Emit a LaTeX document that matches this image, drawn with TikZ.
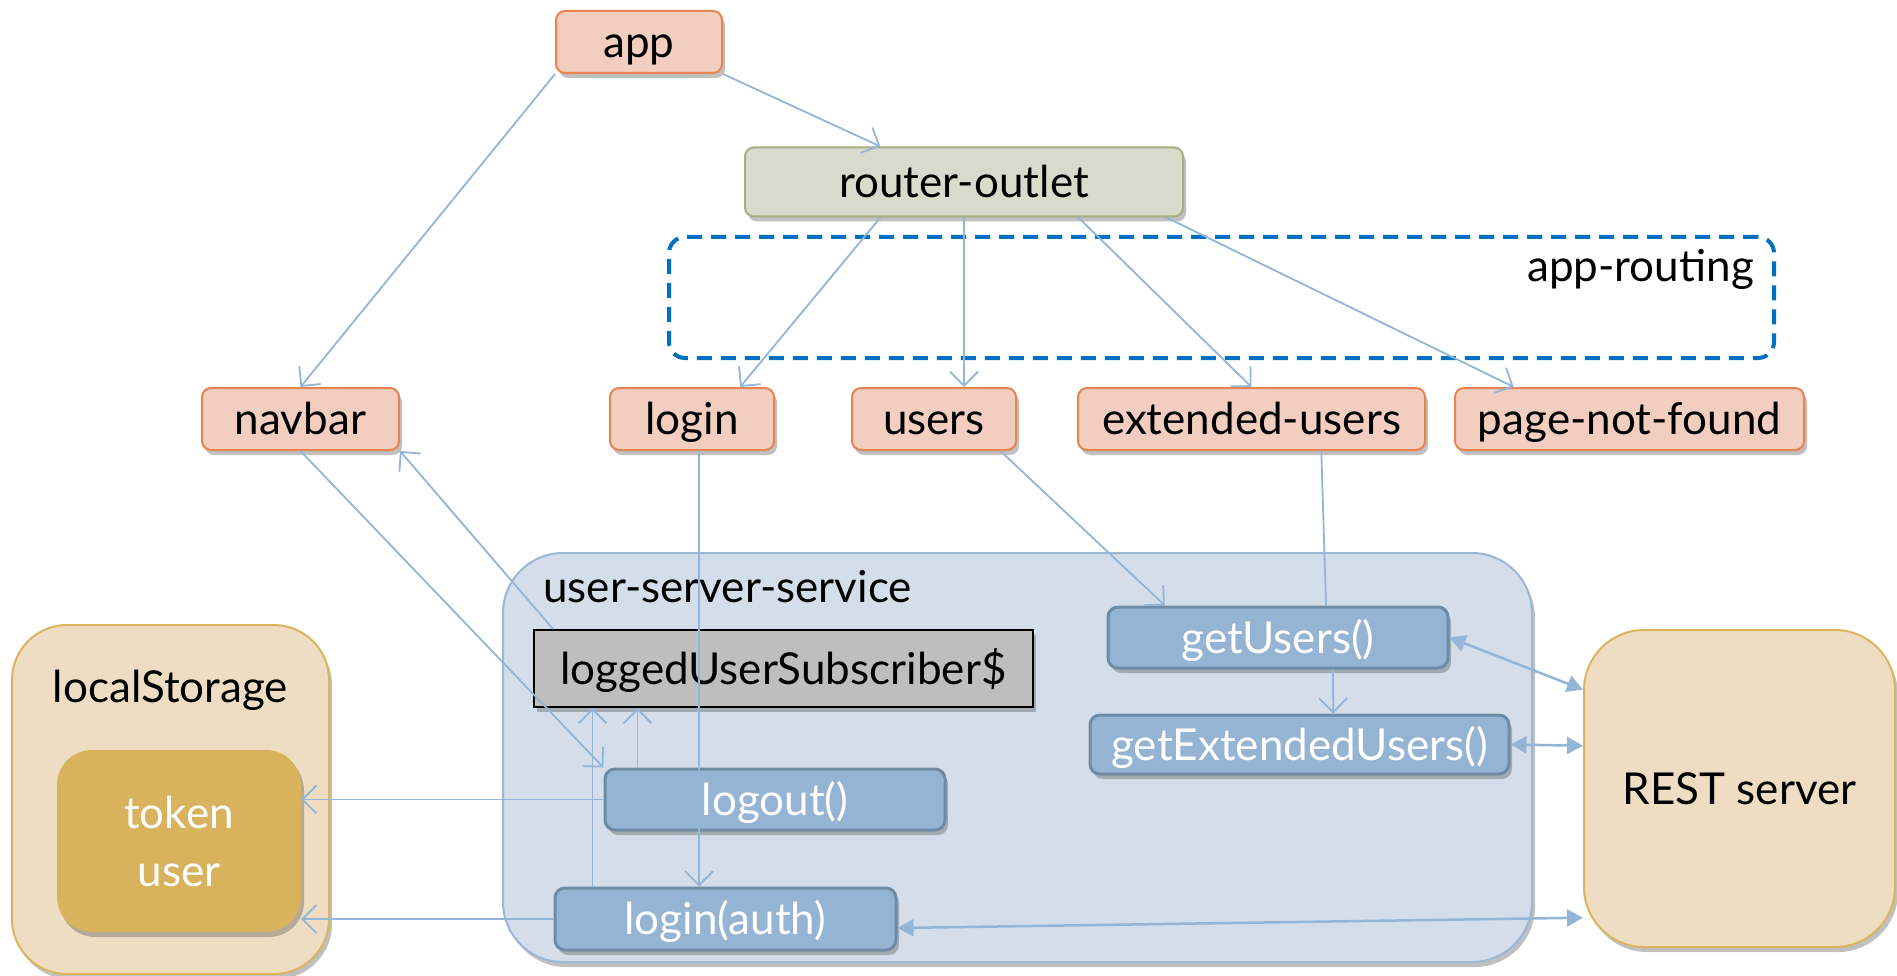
\documentclass[tikz,border=0pt]{standalone}
\usepackage{fontspec}
\setmainfont{Lato}
\usetikzlibrary{arrows.meta,shadows,calc}
\definecolor{pinkfill}{HTML}{F2CEC1}
\definecolor{pinkdraw}{HTML}{E6834E}
\definecolor{olivefill}{HTML}{D8DACB}
\definecolor{olivedraw}{HTML}{A4AE7F}
\definecolor{routeblue}{HTML}{0070C0}
\definecolor{ussfill}{HTML}{D3DEEA}
\definecolor{ussdraw}{HTML}{9AB7D6}
\definecolor{methfill}{HTML}{95B4D3}
\definecolor{methdraw}{HTML}{6E8BA5}
\definecolor{tanfill}{HTML}{EEDDC3}
\definecolor{tandraw}{HTML}{DBB45E}
\definecolor{goldfill}{HTML}{D8B25C}
\definecolor{connc}{HTML}{93B5D8}
\definecolor{grayfill}{HTML}{BEBEBE}
\begin{document}
\begin{tikzpicture}[x=1pt,y=-1pt,
  font=\fontsize{44}{50}\selectfont,
  tx/.style={text height=40pt,text depth=9pt},
  shad/.style={drop shadow={shadow xshift=3pt,shadow yshift=-5pt,opacity=0.35,fill=black!70}},
  comp/.style={draw=pinkdraw,fill=pinkfill,line width=2pt,rounded corners=9pt,shad,inner sep=0pt,minimum height=62pt,tx},
  outlet/.style={draw=olivedraw,fill=olivefill,line width=2pt,rounded corners=9pt,shad,inner sep=0pt,tx},
  meth/.style={draw=methdraw,fill=methfill,line width=3pt,rounded corners=10pt,shad,inner sep=0pt,text=white,tx},
  container/.style={line width=2pt,rounded corners=60pt,shad,inner sep=0pt},
  arr/.style={draw=connc,line width=1.8pt,-{Straight Barb[length=14pt,width=28pt]}},
  plain/.style={draw=connc,line width=1.8pt},
  dbl/.style={draw=connc,line width=2.5pt,{Triangle[length=16pt,width=17pt]}-{Triangle[length=16pt,width=17pt]}},
  lbl/.style={inner sep=0pt,tx}
]
\fill[white] (0,0) rectangle (1897,976);
\useasboundingbox (0,0) rectangle (1897,976);

% containers
\node[container,draw=ussdraw,fill=ussfill,minimum width=1029pt,minimum height=409pt] (uss) at (1017.5,757.5) {};
\node[lbl,anchor=west] (usslbl) at (543,587) {user-server-service};
\node[container,draw=tandraw,fill=tanfill,minimum width=317pt,minimum height=349pt,rounded corners=55pt] (ls) at (170.5,799.5) {};
\node[lbl] (lslbl) at (170.5,687) {localStorage};
\node[draw=none,fill=goldfill,rounded corners=35pt,shad,minimum width=244pt,minimum height=182pt,inner sep=0pt,text=white,align=center,font=\fontsize{44}{58}\selectfont] (token) at (179,841) {token\\user};
\node[container,draw=tandraw,fill=tanfill,minimum width=311pt,minimum height=317pt,tx] (rest) at (1739.5,788.5) {REST server};

% routing box
\node[draw=routeblue,line width=4pt,dash pattern=on 15pt off 9pt,rounded corners=16pt,minimum width=1105pt,minimum height=121pt,inner sep=0pt] (routing) at (1221.5,297.5) {};
\node[lbl,anchor=east] (routinglbl) at (1754,266) {app-routing};

% components
\node[comp,minimum width=166pt] (app) at (639,42) {app};
\node[outlet,minimum width=438pt,minimum height=69pt] (router) at (964,182) {router-outlet};
\node[comp,minimum width=197pt] (navbar) at (300.5,419) {navbar};
\node[comp,minimum width=164pt] (login) at (692,419) {login};
\node[comp,minimum width=164pt] (users) at (934,419) {users};
\node[comp,minimum width=347pt] (ext) at (1251.5,419) {extended-users};
\node[comp,minimum width=349pt] (pnf) at (1629.5,419) {page-not-found};

% service members
\node[draw=black,fill=grayfill,line width=2pt,shad,minimum width=499pt,minimum height=77pt,inner sep=0pt,tx] (logged) at (783.5,668.5) {loggedUserSubscriber\$};
\node[meth,minimum width=340pt,minimum height=61pt] (logout) at (775,799.5) {logout()};
\node[meth,minimum width=341pt,minimum height=62pt] (loginauth) at (725.5,919) {login(auth)};
\node[meth,minimum width=340pt,minimum height=61pt] (getusers) at (1278,637.5) {getUsers()};
\node[meth,minimum width=419pt,minimum height=59pt] (getext) at (1299.5,744.5) {getExtendedUsers()};

% connectors
\draw[arr] (app.south west) -- (navbar.north);
\draw[arr] (app.south east) -- ($(router.north west)!0.31!(router.north east)$);
\draw[arr] ($(router.south west)!0.31!(router.south east)$) -- ($(login.north west)!0.79!(login.north east)$);
\draw[arr] (router.south) -- (router.south |- users.north);
\draw[arr] ($(router.south west)!0.76!(router.south east)$) -- (ext.north);
\draw[arr] ($(router.south west)!0.96!(router.south east)$) -- ($(pnf.north west)!0.17!(pnf.north east)$);
\draw[arr] (navbar.south) -- (logout.north west);
\draw[arr] ($(logged.north west)!0.04!(logged.north east)$) -- (navbar.south east);
\draw[arr] ([xshift=7pt]login.south) -- ([xshift=7pt]login.south |- loginauth.north);
\draw[arr] ($(users.south west)!0.9!(users.south east)$) -- ($(getusers.north west)!0.17!(getusers.north east)$);
\draw[plain] ($(ext.south west)!0.7!(ext.south east)$) -- ($(getusers.north west)!0.64!(getusers.north east)$);
\draw[arr] ($(getusers.south west)!0.66!(getusers.south east)$) -- ($(getext.north west)!0.58!(getext.north east)$);
\draw[dbl] (getusers.east) -- ($(rest.north west)!0.19!(rest.south west)$);
\draw[dbl] (getext.east) -- ($(rest.north west)!0.366!(rest.south west)$);
\draw[dbl] ([yshift=-9pt]loginauth.east) -- ($(rest.north west)!0.905!(rest.south west)$);
\draw[arr] (logout.west) -- (logout.west -| token.east);
\draw[arr] (loginauth.west) -- (loginauth.west -| token.east);
\draw[arr] ([xshift=39pt]loginauth.north west) -- ([xshift=39pt]loginauth.north west |- logged.south);
\draw[arr] ([xshift=34pt]logout.north west) -- ([xshift=34pt]logout.north west |- logged.south);
\end{tikzpicture}
\end{document}
